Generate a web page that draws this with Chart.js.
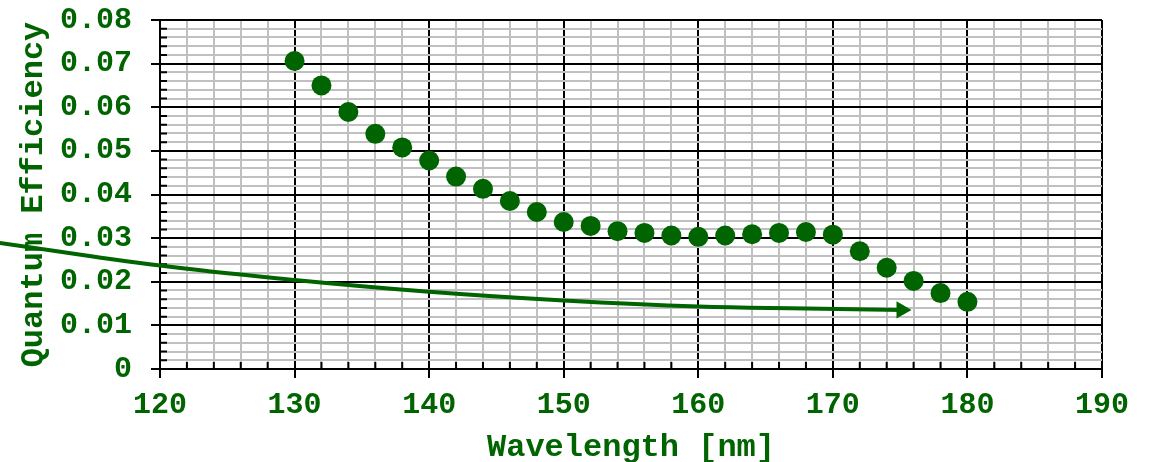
<!DOCTYPE html>
<html>
<head>
<meta charset="utf-8">
<script src="https://cdn.jsdelivr.net/npm/chart.js@4/dist/chart.umd.min.js"></script>
<style>
html,body{margin:0;padding:0;background:#fff;}
#wrap{width:1150px;height:462px;position:relative;}
</style>
</head>
<body>
<div id="wrap"><canvas id="c" width="1150" height="462"></canvas></div>
<script>
// ---- data ----
const wavelengths = [130,132,134,136,138,140,142,144,146,148,150,152,154,156,158,160,162,164,166,168,170,172,174,176,178,180];
const efficiency = [0.0706,0.0650,0.0589,0.0539,0.0508,0.0478,0.0441,0.0413,0.0385,0.0360,0.0337,0.0328,0.0316,0.0312,0.0306,0.0303,0.0306,0.0309,0.0312,0.0314,0.0308,0.0270,0.0232,0.0202,0.0174,0.0154];
// annotation arrow path (data coordinates)
const arrowX = [108.1,120,130,140,150,160,168,175.1];
const arrowY = [0.0289,0.0237,0.0204,0.0177,0.0157,0.0143,0.01387,0.01355];
const xTickLabels = [120,130,140,150,160,170,180,190];
const yTickLabels = ['0','0.01','0.02','0.03','0.04','0.05','0.06','0.07','0.08'];

const GREEN = '#006400';
const FONT = "'Liberation Mono', 'Courier New', monospace";

const isMajor = (v, step) => Math.abs(v/step - Math.round(v/step)) < 1e-6;

const innerTicks = {
  id: 'innerTicks',
  beforeDatasetsDraw(chart) {
    const ctx = chart.ctx;
    const xs = chart.scales.x, ys = chart.scales.y;
    ctx.save();
    ctx.strokeStyle = '#000';
    ctx.lineWidth = 2;
    ctx.beginPath();
    xs.ticks.forEach(t => {
      if (!isMajor(t.value, 10)) {
        const px = xs.getPixelForValue(t.value);
        ctx.moveTo(px, ys.bottom); ctx.lineTo(px, ys.bottom - 7);
      }
    });
    ys.ticks.forEach(t => {
      if (!isMajor(t.value, 0.01)) {
        const py = ys.getPixelForValue(t.value);
        ctx.moveTo(xs.left, py); ctx.lineTo(xs.left + 7, py);
      }
    });
    ctx.stroke();
    ctx.restore();
  }
};

const pts = wavelengths.map((w,i)=>({x:w,y:efficiency[i]}));
const arrowPts = arrowX.map((w,i)=>({x:w,y:arrowY[i]}));
const last = arrowPts.length-1;

new Chart(document.getElementById('c'), {
  type: 'scatter',
  data: {
    datasets: [
      {
        data: arrowPts,
        showLine: true,
        borderColor: GREEN,
        backgroundColor: GREEN,
        borderWidth: 4,
        tension: 0.4,
        clip: false,
        pointStyle: 'triangle',
        pointRotation: 90,
        pointRadius: arrowPts.map((p,i)=> i===last ? 10 : 0),
        pointBorderWidth: 0,
        order: 2
      },
      {
        data: pts,
        showLine: false,
        backgroundColor: GREEN,
        borderColor: GREEN,
        pointRadius: 10,
        pointBorderWidth: 0,
        order: 1
      }
    ]
  },
  options: {
    responsive: false,
    animation: false,
    devicePixelRatio: 1,
    layout: { padding: { top: 20, right: 48, left: 0, bottom: 0 } },
    plugins: { legend: { display: false }, tooltip: { enabled: false } },
    scales: {
      x: {
        type: 'linear',
        min: 120, max: 190,
        afterFit(s) { s.height = 93; s.paddingLeft = 0; s.paddingRight = 0; },
        border: { display: true, color: '#000', width: 2 },
        grid: {
          color: c => isMajor(c.tick.value, 10) ? '#000' : '#c0c0c0',
          lineWidth: 2,
          tickColor: c => isMajor(c.tick.value, 10) ? '#000' : 'rgba(0,0,0,0)',
          tickLength: 9,
          tickWidth: 2
        },
        ticks: {
          stepSize: 2,
          maxTicksLimit: 100,
          autoSkip: false,
          maxRotation: 0, minRotation: 0,
          padding: 9,
          color: GREEN,
          font: { family: FONT, size: 30, weight: 'bold' },
          callback: v => isMajor(v, 10) ? String(xTickLabels[Math.round((v-120)/10)]) : ''
        },
        title: {
          display: true,
          text: 'Wavelength [nm]',
          color: GREEN,
          font: { family: FONT, size: 32, weight: 'bold', lineHeight: 0.85 },
          padding: { top: 0, bottom: 0 }
        }
      },
      y: {
        type: 'linear',
        min: 0, max: 0.08,
        afterFit(s) { s.width = 160; s.paddingTop = 0; s.paddingBottom = 0; },
        border: { display: true, color: '#000', width: 2 },
        grid: {
          color: c => isMajor(c.tick.value, 0.01) ? '#000' : '#c0c0c0',
          lineWidth: 2,
          tickColor: c => isMajor(c.tick.value, 0.01) ? '#000' : 'rgba(0,0,0,0)',
          tickLength: 9,
          tickWidth: 2
        },
        ticks: {
          stepSize: 0.002,
          maxTicksLimit: 100,
          autoSkip: false,
          padding: 19,
          color: GREEN,
          font: { family: FONT, size: 30, weight: 'bold' },
          callback: v => isMajor(v, 0.01) ? yTickLabels[Math.round(v/0.01)] : ''
        },
        title: {
          display: true,
          text: 'Quantum Efficiency',
          color: GREEN,
          font: { family: FONT, size: 32, weight: 'bold', lineHeight: 1 },
          padding: { top: 18, bottom: 0 }
        }
      }
    }
  },
  plugins: [innerTicks]
});
</script>
</body>
</html>
